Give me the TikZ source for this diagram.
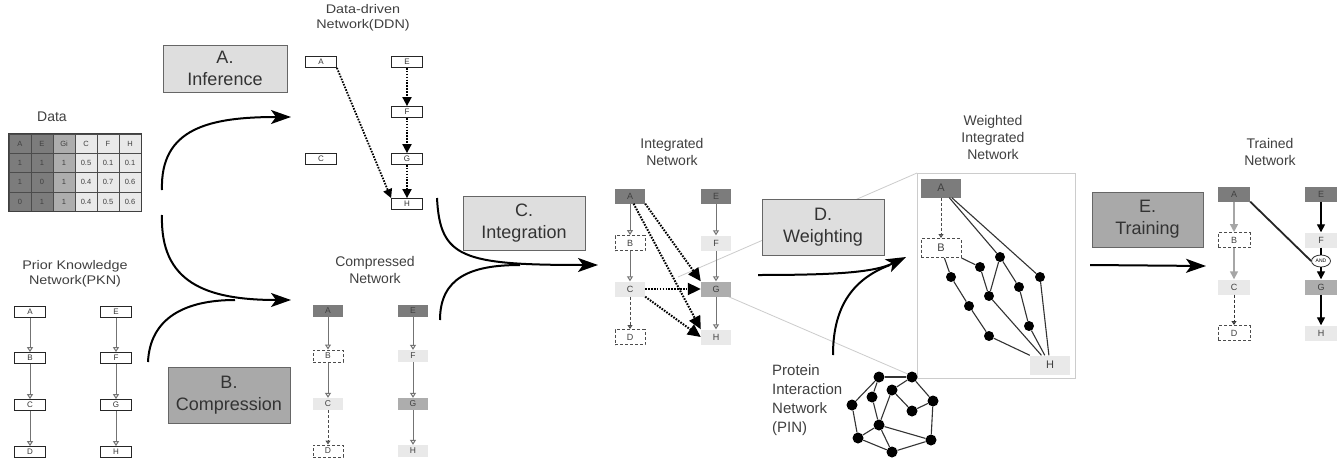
\documentclass[tikz,border=0pt]{standalone}
\usepackage{fontspec}
\setmainfont{Liberation Sans}
\newfontfamily\widefont[FakeStretch=1.15]{Liberation Sans}
\usetikzlibrary{arrows.meta,shapes.geometric}
\definecolor{dk}{HTML}{7C7C7C}
\definecolor{md}{HTML}{ADADAD}
\definecolor{lt}{HTML}{E9E9E9}
\definecolor{stepl}{HTML}{DEDEDE}
\definecolor{stepd}{HTML}{A9A9A9}
\tikzset{
  cell/.style={draw=black!70, line width=0.7pt, minimum width=22pt, minimum height=19.3pt, inner sep=0pt, font=\fontsize{7.5}{8}\selectfont, text=black!75},
  wbox/.style={draw=black!85, fill=white, line width=0.8pt, minimum width=31pt, minimum height=11pt, inner sep=0pt, font=\fontsize{8}{9}\selectfont, text=black!80},
  cbox/.style={minimum width=30pt, minimum height=12pt, inner sep=0pt, font=\fontsize{8.5}{9}\selectfont, text=black!75},
  ibox/.style={minimum width=30pt, minimum height=15pt, inner sep=0pt, font=\fontsize{9}{10}\selectfont, text=black!75},
  gbox/.style={minimum width=40pt, minimum height=19pt, inner sep=0pt, font=\fontsize{11}{12}\selectfont, text=black!75},
  tbox/.style={minimum width=32pt, minimum height=15pt, inner sep=0pt, font=\fontsize{9}{10}\selectfont, text=black!75},
  fdark/.style={fill=dk, draw=none},
  fmed/.style={fill=md, draw=none},
  flight/.style={fill=lt, draw=none},
  fdash/.style={fill=white, draw=black!70, line width=1pt, dash pattern=on 3pt off 2pt},
  title/.style={font=\fontsize{14}{17}\selectfont, text=black!75, align=center, inner sep=0pt},
  wtitle/.style={font=\widefont\fontsize{12.5}{15.5}\selectfont, text=black!75, align=center, inner sep=0pt},
  stepbox/.style={draw=black!60, line width=0.8pt, font=\fontsize{18}{22}\selectfont, text=black!80, align=center, inner sep=0pt},
  garr/.style={draw=black!55, line width=1pt, -{Triangle[length=5pt,width=6pt,fill=white]}},
  garrd/.style={draw=black!70, line width=1pt, dash pattern=on 3pt off 2pt, -{Triangle[length=4pt,width=5pt,fill=white]}},
  dotarr/.style={draw=black, line width=1.8pt, dash pattern=on 1.6pt off 1.3pt, -{Triangle[length=9pt,width=9pt]}},
  dotarrl/.style={draw=black, line width=2pt, dash pattern=on 1.6pt off 1.3pt, -{Triangle[length=13pt,width=12pt]}},
  big/.style={draw=black, line width=2pt, -{Stealth[length=20pt,width=14pt,inset=5pt]}},
  bigline/.style={draw=black, line width=2pt},
  dot/.style={circle, fill=black, inner sep=0pt, minimum size=10pt},
  pdot/.style={circle, fill=black, inner sep=0pt, minimum size=11pt},
  edge/.style={draw=black!80, line width=1.1pt},
  zoomline/.style={draw=black!20, line width=0.8pt},
  barr/.style={draw=black, line width=1.3pt, -{Triangle[length=8pt,width=8pt]}},
  lgarr/.style={draw=black!35, line width=1.5pt, -{Triangle[length=8pt,width=8pt]}}
}
\begin{document}
\begin{tikzpicture}[x=1pt,y=-1pt]
\useasboundingbox[fill=white] (0,0) rectangle (1344,463);

% ---------- Data table ----------
\node[title] (tdata) at (52,117) {Data};
\foreach \c/\col/\v in {0/dk/A,1/dk/E,2/md/Gi,3/lt/C,4/lt/F,5/lt/H}
  \node[cell, fill=\col] (tb-0-\c) at (20+22*\c,143.65) {\v};
\foreach \c/\col/\v in {0/dk/1,1/dk/1,2/md/1,3/lt/0.5,4/lt/0.1,5/lt/0.1}
  \node[cell, fill=\col] (tb-1-\c) at (20+22*\c,162.95) {\v};
\foreach \c/\col/\v in {0/dk/1,1/dk/0,2/md/1,3/lt/0.4,4/lt/0.7,5/lt/0.6}
  \node[cell, fill=\col] (tb-2-\c) at (20+22*\c,182.25) {\v};
\foreach \c/\col/\v in {0/dk/0,1/dk/1,2/md/1,3/lt/0.4,4/lt/0.5,5/lt/0.6}
  \node[cell, fill=\col] (tb-3-\c) at (20+22*\c,201.55) {\v};
\draw[black!75, line width=1.5pt] (tb-0-0.north west) rectangle (tb-3-5.south east);

% ---------- PKN ----------
\node[wtitle] (tpkn) at (75,274) {Prior Knowledge\\Network(PKN)};
\node[wbox] (pA) at (30,312) {A};
\node[wbox] (pB) at (30,358) {B};
\node[wbox] (pC) at (30,405) {C};
\node[wbox] (pD) at (30,452) {D};
\node[wbox] (pE) at (116,312) {E};
\node[wbox] (pF) at (116,358) {F};
\node[wbox] (pG) at (116,405) {G};
\node[wbox] (pH) at (116,452) {H};
\draw[garr] (pA) -- (pB);
\draw[garr] (pB) -- (pC);
\draw[garr] (pC) -- (pD);
\draw[garr] (pE) -- (pF);
\draw[garr] (pF) -- (pG);
\draw[garr] (pG) -- (pH);

% ---------- DDN ----------
\node[wtitle] (tddn) at (363,18) {Data-driven\\Network(DDN)};
\node[wbox] (dA) at (321,62) {A};
\node[wbox] (dC) at (321,159) {C};
\node[wbox] (dE) at (407,62) {E};
\node[wbox] (dF) at (407,112) {F};
\node[wbox] (dG) at (407,159) {G};
\node[wbox] (dH) at (407,204) {H};
\draw[dotarr] (dE) -- (dF);
\draw[dotarr] (dF) -- (dG);
\draw[dotarr] (dG) -- (dH);
\draw[dotarr] (dA.south east) -- (dH.north west);

% ---------- Compressed ----------
\node[title] (tcmp) at (375,270) {Compressed\\Network};
\node[cbox, fdark] (cA) at (328,311) {A};
\node[cbox, fdash] (cB) at (328,356) {B};
\node[cbox, flight] (cC) at (328,404) {C};
\node[cbox, fdash] (cD) at (328,451) {D};
\node[cbox, fdark] (cE) at (413,311) {E};
\node[cbox, flight] (cF) at (413,356) {F};
\node[cbox, fmed] (cG) at (413,404) {G};
\node[cbox, flight] (cH) at (413,451) {H};
\draw[garr] (cA) -- (cB);
\draw[garr] (cB) -- (cC);
\draw[garrd] (cC) -- (cD);
\draw[garr] (cE) -- (cF);
\draw[garr] (cF) -- (cG);
\draw[garr] (cG) -- (cH);

% ---------- zoom lines ----------
\coordinate (z1) at (678,277);
\coordinate (z2) at (720,293);
\coordinate (wtl) at (917,173);
\coordinate (wbl) at (917,378);
\draw[zoomline] (z1) -- (wtl);
\draw[zoomline] (z2) -- (wbl);

% ---------- Integrated ----------
\node[title] (tint) at (672,152) {Integrated\\Network};
\node[ibox, fdark] (iA) at (630,196) {A};
\node[ibox, fdash] (iB) at (630,243) {B};
\node[ibox, flight] (iC) at (630,289) {C};
\node[ibox, fdash] (iD) at (630,337) {D};
\node[ibox, fdark] (iE) at (716,196) {E};
\node[ibox, flight] (iF) at (716,243) {F};
\node[ibox, fmed] (iG) at (716,289) {G};
\node[ibox, flight] (iH) at (716,337) {H};
\draw[garr] (iA) -- (iB);
\draw[garr] (iB) -- (iC);
\draw[garrd] (iC) -- (iD);
\draw[garr] (iE) -- (iF);
\draw[garr] (iF) -- (iG);
\draw[garr] (iG) -- (iH);
\draw[dotarrl] (iA.south east) -- (iG.north west);
\draw[dotarrl] (iA.-65) -- (iH.north west);
\draw[dotarrl] (iC.east) -- (iG.west);
\draw[dotarrl] (iC.south east) -- (iH.west);

% ---------- Weighted integrated ----------
\node[title] (twgt) at (993,137) {Weighted\\Integrated\\Network};
\draw[draw=black!20, line width=0.8pt] (wtl) rectangle (1075,378);
\node[gbox, fdark] (wA) at (941,188) {A};
\node[gbox, fdash] (wB) at (941,248) {B};
\node[gbox, flight] (wH) at (1050,365) {H};
\draw[garrd] (wA) -- (wB);
\foreach \n/\x/\y in {1/1000/257, 2/980/267, 3/951/277, 4/1040/277, 5/1019/287, 6/989/296, 7/969/306, 8/1029/326, 9/989/336}
  \node[dot] (w\n) at (\x,\y) {};
\draw[edge] (wA) -- (w1);
\draw[edge] (wA) -- (w4);
\draw[edge] (wB) -- (w3);
\draw[edge] (wB.south east) -- (w2);
\draw[edge] (w2) -- (w6);
\draw[edge] (w1) -- (w6);
\draw[edge] (w1) -- (w5);
\draw[edge] (w3) -- (w7);
\draw[edge] (w7) -- (w9);
\draw[edge] (w9) -- (wH.north west);
\draw[edge] (w6) -- (wH);
\draw[edge] (w5) -- (w8);
\draw[edge] (w8) -- (wH);
\draw[edge] (w4) -- (wH);

% ---------- PIN ----------
\node[font=\fontsize{15}{19}\selectfont, text=black!75, align=left, anchor=west, inner sep=0pt] (tpin) at (772,400) {Protein\\Interaction\\Network\\(PIN)};
\foreach \n/\x/\y in {1/879/377, 2/912/377, 3/892/390, 4/872/397, 5/852/405, 6/912/411, 7/879/425, 8/858/438, 9/892/452, 10/933/401, 11/931/440}
  \node[pdot] (q\n) at (\x,\y) {};
\draw[edge] (q1) -- (q2);
\draw[edge] (q1) -- (q5);
\draw[edge] (q1) -- (q4);
\draw[edge] (q2) -- (q3);
\draw[edge] (q2) -- (q10);
\draw[edge] (q3) -- (q7);
\draw[edge] (q3) -- (q6);
\draw[edge] (q4) -- (q7);
\draw[edge] (q5) -- (q8);
\draw[edge] (q8) -- (q7);
\draw[edge] (q8) -- (q9);
\draw[edge] (q7) -- (q9);
\draw[edge] (q7) -- (q11);
\draw[edge] (q9) -- (q11);
\draw[edge] (q6) -- (q10);
\draw[edge] (q10) -- (q11);

% ---------- Trained ----------
\node[title] (ttrn) at (1270,152) {Trained\\Network};
\node[tbox, fdark] (tA) at (1234,194) {A};
\node[tbox, fdash] (tB) at (1234,240) {B};
\node[tbox, flight] (tC) at (1234,287) {C};
\node[tbox, fdash] (tD) at (1234,333) {D};
\node[tbox, fdark] (tE) at (1321,194) {E};
\node[tbox, flight] (tF) at (1321,240) {F};
\node[ellipse, draw=black!80, fill=white, line width=0.8pt, minimum width=19pt, minimum height=12pt, inner sep=0pt, font=\fontsize{5}{5}\selectfont] (tAND) at (1321,261) {AND};
\node[tbox, fmed] (tG) at (1321,287) {G};
\node[tbox, flight] (tH) at (1321,333) {H};
\draw[lgarr] (tA) -- (tB);
\draw[lgarr] (tB) -- (tC);
\draw[garrd, draw=black!80] (tC) -- (tD);
\draw[barr] (tE) -- (tF);
\draw[draw=black, line width=1.3pt] (tF) -- (tAND);
\draw[barr] (tAND) -- (tG);
\draw[barr] (tG) -- (tH);
\draw[draw=black!85, line width=1.8pt] (tA.south east) -- (tAND.west);

% ---------- Step boxes ----------
\node[stepbox, fill=stepl, minimum width=124pt, minimum height=47pt] (sA) at (225,68.5) {A.\\Inference};
\node[stepbox, fill=stepd, minimum width=122pt, minimum height=56pt] (sB) at (229,395) {B.\\Compression};
\node[stepbox, fill=stepl, minimum width=122pt, minimum height=54pt] (sC) at (524,223) {C.\\Integration};
\node[stepbox, fill=stepl, minimum width=122pt, minimum height=56pt] (sD) at (823,227) {D.\\Weighting};
\node[stepbox, fill=stepd, minimum width=111pt, minimum height=55pt] (sE) at (1147.5,219.5) {E.\\Training};

% ---------- Curved process arrows ----------
\coordinate (a1) at (162,190);
\coordinate (a2) at (291,117);
\draw[big] (a1) .. controls (160,128) and (210,117) .. (a2);
\coordinate (b1) at (162,215);
\coordinate (b2) at (291,300);
\coordinate (b3) at (148,362);
\coordinate (bm) at (235,300);
\draw[big] (b1) .. controls (160,282) and (205,300) .. (b2);
\draw[bigline] (b3) .. controls (150,318) and (185,300) .. (bm);
\coordinate (c1) at (437,198);
\coordinate (c2) at (598,265);
\coordinate (c3) at (440,320);
\coordinate (cm) at (520,265);
\draw[big] (c1) .. controls (440,258) and (462,265) .. (c2);
\draw[bigline] (c3) .. controls (440,278) and (470,265) .. (cm);
\coordinate (d1) at (758,275);
\coordinate (d2) at (906,257);
\coordinate (d3) at (833,355);
\coordinate (dm) at (890,265);
\draw[big] (d1) .. controls (840,275) and (875,272) .. (d2);
\draw[bigline] (d3) .. controls (833,310) and (850,280) .. (dm);
\coordinate (e1) at (1090,265);
\coordinate (e2) at (1206,266);
\draw[big] (e1) -- (e2);
\end{tikzpicture}
\end{document}
